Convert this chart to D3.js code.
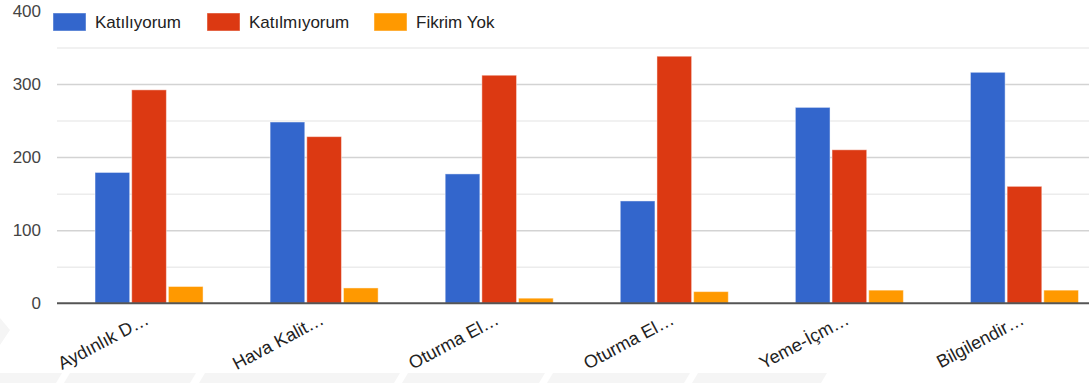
<!DOCTYPE html>
<html>
<head>
<meta charset="utf-8">
<script src="https://cdn.jsdelivr.net/npm/d3@7/dist/d3.min.js"></script>
<style>
  html, body { margin: 0; padding: 0; background: #fff; }
  svg { display: block; font-family: Arial, "Liberation Sans", sans-serif; }
</style>
</head>
<body>
<svg id="chart" width="1089" height="383"></svg>
<script>
// Survey answers per topic
const categories = ["Aydınlık D…", "Hava Kalit…", "Oturma El…", "Oturma El…", "Yeme-İçm…", "Bilgilendir…"];
const seriesNames = ["Katılıyorum", "Katılmıyorum", "Fikrim Yok"];
const katiliyorum  = [179, 248, 177, 140, 268, 316];
const katilmiyorum = [292, 228, 312, 338, 210, 160];
const fikrimYok    = [23, 21, 7, 16, 18, 18];
const yTicks = [0, 100, 200, 300, 400];
const colors = ["#3366cc", "#dc3912", "#ff9900"];

const seriesValues = [katiliyorum, katilmiyorum, fikrimYok];
const rows = categories.map((c, i) => ({
  key: i,
  label: c,
  values: seriesValues.map((s, j) => ({ series: j, value: s[i] }))
}));

const svg = d3.select("#chart");
const W = 1089, H = 383;
const plotLeft = 57, plotRight = W;
const baseY = 303.3, topY = 10.9;

// faint background band near the bottom edge
const bandShapes = [
  [[0, 373], [62, 373], [56, 383], [0, 383]],
  [[70, 373], [196, 373], [190, 383], [64, 383]],
  [[205, 373], [400, 373], [394, 383], [199, 383]],
  [[408, 373], [545, 373], [539, 383], [402, 383]],
  [[553, 373], [690, 373], [684, 383], [547, 383]],
  [[698, 373], [827, 373], [821, 383], [692, 383]]
];
svg.append("g").selectAll("polygon").data(bandShapes).join("polygon")
  .attr("points", d => d.map(p => p.join(",")).join(" "))
  .attr("fill", "#f5f5f5");
svg.append("polygon")
  .attr("points", "0,318 10,330 0,345")
  .attr("fill", "#f5f5f5");

const y = d3.scaleLinear().domain([0, 400]).range([baseY, topY]);

const x0 = d3.scaleBand()
  .domain(rows.map(r => r.key))
  .range([61.5, 1112])
  .paddingInner(0.383)
  .paddingOuter(0.1915);

const x1 = d3.scaleBand()
  .domain(d3.range(seriesNames.length))
  .range([0, x0.bandwidth()])
  .paddingInner(0.055);

// minor gridlines every 50
svg.append("g")
  .attr("transform", `translate(${plotLeft},0)`)
  .call(d3.axisLeft(y).tickValues([50, 150, 250, 350]).tickSize(-(plotRight - plotLeft)).tickFormat(""))
  .call(g => g.select(".domain").remove())
  .call(g => g.selectAll("line").attr("stroke", "#ececec").attr("stroke-width", 1.5));

// major gridlines every 100
svg.append("g")
  .attr("transform", `translate(${plotLeft},0)`)
  .call(d3.axisLeft(y).tickValues([100, 200, 300]).tickSize(-(plotRight - plotLeft)).tickFormat(""))
  .call(g => g.select(".domain").remove())
  .call(g => g.selectAll("line").attr("stroke", "#d3d3d3").attr("stroke-width", 1.5));

// y-axis labels
svg.append("g")
  .attr("transform", `translate(41,0)`)
  .call(d3.axisLeft(y).tickValues(yTicks).tickSize(0).tickPadding(0))
  .call(g => g.select(".domain").remove())
  .call(g => g.selectAll("text")
    .attr("fill", "#444")
    .attr("font-size", 17)
    .attr("font-family", "Arial, 'Liberation Sans', sans-serif"));

// bars
const groups = svg.append("g").selectAll("g").data(rows).join("g")
  .attr("transform", d => `translate(${x0(d.key)},0)`);
groups.selectAll("rect").data(d => d.values).join("rect")
  .attr("x", d => x1(d.series))
  .attr("y", d => y(d.value))
  .attr("width", x1.bandwidth())
  .attr("height", d => baseY - y(d.value))
  .attr("fill", d => colors[d.series])
  .attr("stroke", "rgba(255,255,255,0.45)")
  .attr("stroke-width", 1);

// baseline
svg.append("line")
  .attr("x1", plotLeft).attr("x2", plotRight)
  .attr("y1", baseY).attr("y2", baseY)
  .attr("stroke", "#555").attr("stroke-width", 2);

// category labels
const xAxis = svg.append("g")
  .attr("transform", `translate(0,${baseY})`)
  .call(d3.axisBottom(x0).tickSize(0).tickFormat(k => categories[k]))
  .call(g => g.select(".domain").remove());
xAxis.selectAll("text")
  .attr("font-size", 18)
  .attr("fill", "#222")
  .attr("font-family", "Arial, 'Liberation Sans', sans-serif")
  .attr("text-anchor", "end")
  .attr("y", 0)
  .attr("dy", 0)
  .attr("transform", "translate(1,20) rotate(-28)");

// legend
const legend = svg.append("g").selectAll("g").data(seriesNames).join("g")
  .attr("transform", (d, i) => `translate(${[53, 207, 374][i]},13)`);
legend.append("rect")
  .attr("width", 33).attr("height", 18)
  .attr("fill", (d, i) => colors[i])
  .attr("stroke", "rgba(255,255,255,0.45)");
legend.append("text")
  .attr("x", 42).attr("y", 15)
  .attr("font-size", 17)
  .attr("fill", "#222")
  .text(d => d);
</script>
</body>
</html>
